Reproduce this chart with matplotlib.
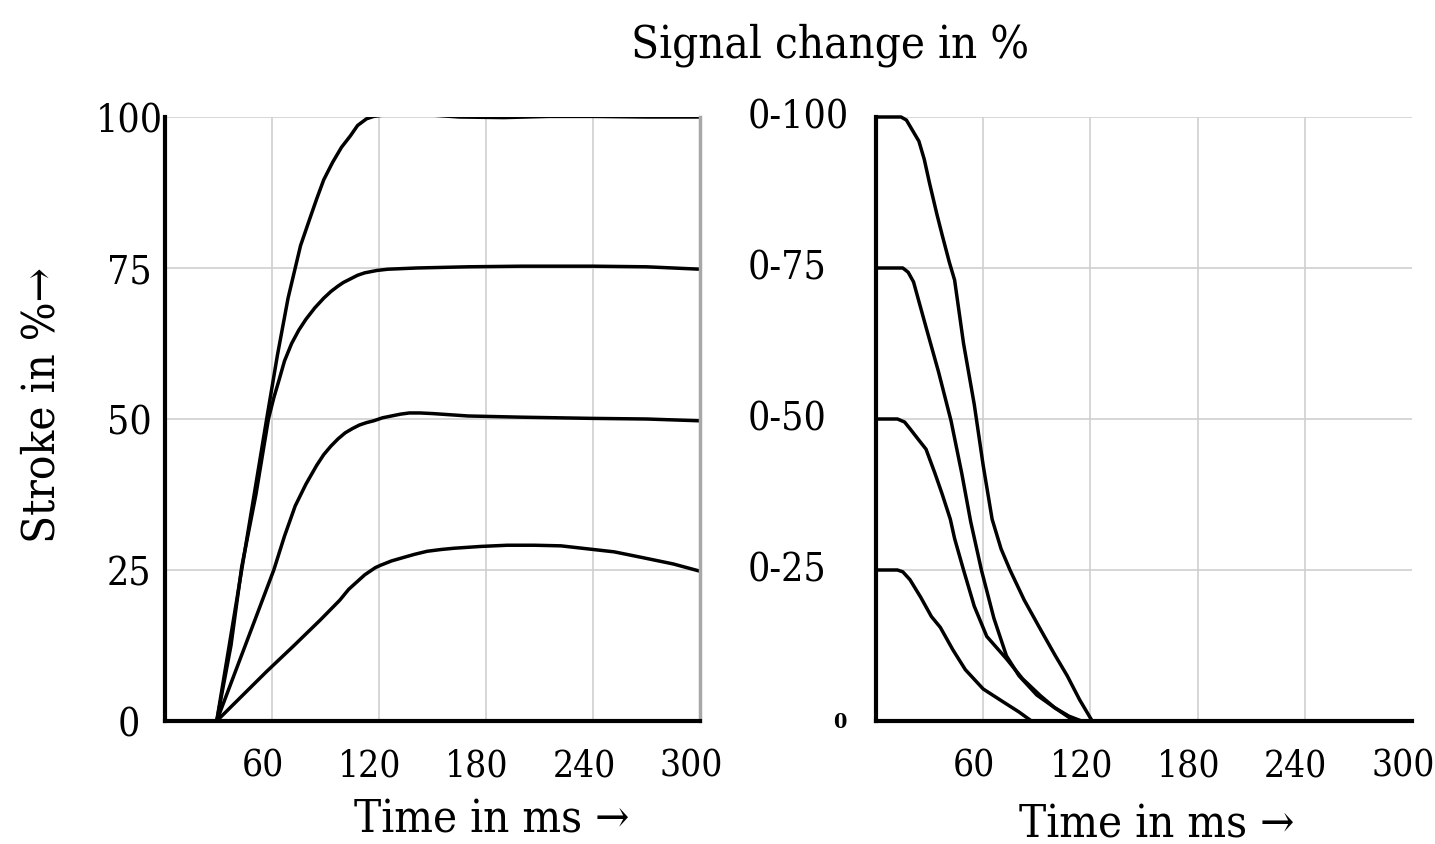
import os
import matplotlib
matplotlib.use("Agg")
import matplotlib.pyplot as plt
from matplotlib import font_manager as fm
from matplotlib.transforms import blended_transform_factory, ScaledTranslation

# ---------------- data ----------------
# Left panel: stroke (%) vs time (ms)
L100_x = [29, 36, 43, 50, 57, 63, 69, 76, 81, 85, 89, 94, 99, 104, 108, 113, 117, 122, 130, 141, 165, 190, 215, 240, 270, 300]
L100_y = [0, 12.5, 25, 37.5, 50, 60.5, 70, 78.7, 83, 86.4, 89.6, 92.5, 95, 96.9, 98.6, 99.7, 100.1, 100.3, 100.5, 100.5, 100, 99.9, 100.1, 100.1, 100, 100]

L75_x = [29, 37, 43, 51, 58, 61, 64, 67, 71, 75, 79, 84, 89, 93, 97, 100, 104, 108, 112, 119, 125, 141, 170, 200, 240, 270, 300]
L75_y = [0, 12.5, 25.5, 37.5, 50, 53.5, 56.5, 59.6, 62.5, 64.7, 66.5, 68.4, 70, 71.1, 72, 72.6, 73.2, 73.8, 74.2, 74.6, 74.8, 75, 75.2, 75.3, 75.3, 75.2, 74.8]

L50_x = [29, 40, 50, 61, 67, 73, 79, 85, 89, 93, 97, 101, 105, 109, 113, 117, 122, 127, 132, 137, 143, 150, 170, 200, 240, 270, 300]
L50_y = [0, 8.6, 16.4, 25, 30.6, 35.6, 39.2, 42.3, 44.1, 45.5, 46.7, 47.7, 48.4, 49, 49.4, 49.7, 50.2, 50.5, 50.8, 51, 51, 50.9, 50.5, 50.3, 50.1, 50, 49.7]

L25_x = [29, 43, 57, 72, 87, 98, 103, 109, 112, 115, 118, 121, 127, 134, 140, 147, 155, 162, 177, 192, 207, 222, 237, 252, 267, 285, 300]
L25_y = [0, 4.1, 8.2, 12.4, 16.7, 20, 21.8, 23.4, 24.2, 24.8, 25.4, 25.8, 26.5, 27.1, 27.6, 28.1, 28.4, 28.6, 28.9, 29.1, 29.1, 29, 28.5, 28, 27.1, 26, 24.8]

# Right panel: signal change decay
R100_x = [0, 14, 17, 20, 24, 27, 30, 34, 37, 41, 44, 49, 55, 60, 65, 70, 75, 83, 92, 100, 107, 114, 121, 300]
R100_y = [100, 100, 99.5, 98, 96, 93, 89, 84, 80.5, 76, 73, 62.5, 52.4, 42.3, 33.4, 28.5, 25, 20, 15.2, 11, 7.5, 3.5, 0, 0]

R75_x = [0, 15, 18, 21, 28, 35, 42, 48, 53, 59, 66, 73, 80, 90, 100, 108, 115, 300]
R75_y = [75, 75, 74.3, 72.7, 65.2, 57.8, 49.7, 41, 33, 25, 17, 10.8, 7.5, 4.3, 2.2, 0.8, 0, 0]

R50_x = [0, 12, 16, 19, 24, 28, 33, 37, 41.6, 44, 49, 55, 62, 73, 82, 92, 100, 111, 300]
R50_y = [50, 50, 49.5, 48.4, 46.5, 45, 41, 37.6, 33.4, 30.2, 25, 19, 14, 10.3, 7, 4.2, 2.2, 0, 0]

R25_x = [0, 12, 15, 19, 25, 31, 36, 43, 50, 60, 71, 80, 87, 300]
R25_y = [25, 25, 24.7, 23.4, 20.5, 17.3, 15.5, 11.8, 8.5, 5.3, 3.2, 1.5, 0, 0]

X_TICKS = [60, 120, 180, 240, 300]
Y_TICKS = [0, 25, 50, 75, 100]
LEFT_YLABELS = ["0", "25", "50", "75", "100"]
RIGHT_YLABELS = ["0-25", "0-50", "0-75", "0-100"]
RIGHT_YVALS = [25, 50, 75, 100]

TITLE = "Signal change in %"
XLABEL = "Time in ms \u2192"
YLABEL = "Stroke in %\u2192"

# ---------------- font ----------------
PREF = ["DejaVuSerifCondensed.ttf", "LiberationSansNarrow-Regular.ttf", "DejaVuSansCondensed.ttf"]
chosen = None
for p in PREF:
    for f in fm.fontManager.ttflist:
        if os.path.basename(f.fname) == p:
            chosen = f
            break
    if chosen:
        break
if chosen is not None:
    FAM = [chosen.name, "DejaVu Sans"]
    STRETCH = chosen.stretch
    FS = 28 if "DejaVu" in chosen.fname else 31
else:
    FAM = ["Liberation Serif", "DejaVu Sans"]
    STRETCH = "normal"
    FS = 27
FS_BIG = FS * 1.17
FS_XT = FS * 0.95

plt.rcParams["font.family"] = FAM
plt.rcParams["font.stretch"] = STRETCH

W, H = 1435, 845
fig = plt.figure(figsize=(W / 100, H / 100), dpi=100)
fig.patch.set_facecolor("white")

axL = fig.add_axes([165 / W, 1 - 722 / H, 535 / W, 604 / H])
axR = fig.add_axes([876 / W, 1 - 722 / H, 536 / W, 604 / H])

GRID_C = "#cfcfcf"
LW = 2.5

for ax in (axL, axR):
    ax.set_xlim(0, 300)
    ax.set_ylim(0, 100)
    ax.set_xticks(X_TICKS)
    ax.set_yticks(Y_TICKS)
    ax.tick_params(length=0, labelsize=FS)
    ax.tick_params(axis="x", labelsize=FS_XT, pad=19)
    ax.spines["top"].set_visible(False)
    ax.spines["left"].set_linewidth(3.0)
    ax.spines["bottom"].set_linewidth(3.0)
    ax.spines["left"].set_color("black")
    ax.spines["bottom"].set_color("black")
    ax.set_axisbelow(True)
    ax.grid(axis="y", color=GRID_C, linewidth=1.2)
    for xv in X_TICKS[:-1]:
        ax.axvline(xv, color=GRID_C, linewidth=1.2, zorder=0)
    shift = ScaledTranslation(-9 / 100, 0, fig.dpi_scale_trans)
    for lab in ax.get_xticklabels():
        lab.set_transform(lab.get_transform() + shift)

# left panel
axL.spines["right"].set_color("#a8a8a8")
axL.spines["right"].set_linewidth(2.5)
for xs, ys in [(L100_x, L100_y), (L75_x, L75_y), (L50_x, L50_y), (L25_x, L25_y)]:
    axL.plot(xs, ys, color="black", linewidth=LW, solid_joinstyle="round", solid_capstyle="round")
axL.set_yticklabels(LEFT_YLABELS)
axL.tick_params(axis="y", pad=26)
for lab in axL.get_yticklabels():
    lab.set_horizontalalignment("center")

axL.set_xlabel(XLABEL, fontsize=FS_BIG, va="center")
axL.xaxis.set_label_coords((492 - 165) / 535, -(820 - 722) / 604)
axL.set_ylabel(YLABEL, fontsize=FS_BIG, va="center")
axL.yaxis.set_label_coords((42 - 165) / 535, (722 - 405) / 604)

# right panel
axR.spines["right"].set_visible(False)
for xs, ys in [(R100_x, R100_y), (R75_x, R75_y), (R50_x, R50_y), (R25_x, R25_y)]:
    axR.plot(xs, ys, color="black", linewidth=LW, solid_joinstyle="round", solid_capstyle="round", clip_on=False)
axR.set_yticklabels([])
tr = blended_transform_factory(axR.transAxes, axR.transData)
for v, s in zip(RIGHT_YVALS, RIGHT_YLABELS):
    axR.text((748 - 876) / 536, v, s, transform=tr, ha="left", va="center", fontsize=FS)
axR.text((840 - 876) / 536, 0, "0", transform=tr, ha="center", va="center", fontsize=FS * 0.55,
         fontweight="bold")

axR.set_xlabel(XLABEL, fontsize=FS_BIG, va="center")
axR.xaxis.set_label_coords((1157 - 876) / 536, -(825 - 722) / 604)

fig.text(830 / W, 1 - 45 / H, TITLE, ha="center", va="center", fontsize=FS_BIG)

fig.savefig("out.png", dpi=100, facecolor="white")
